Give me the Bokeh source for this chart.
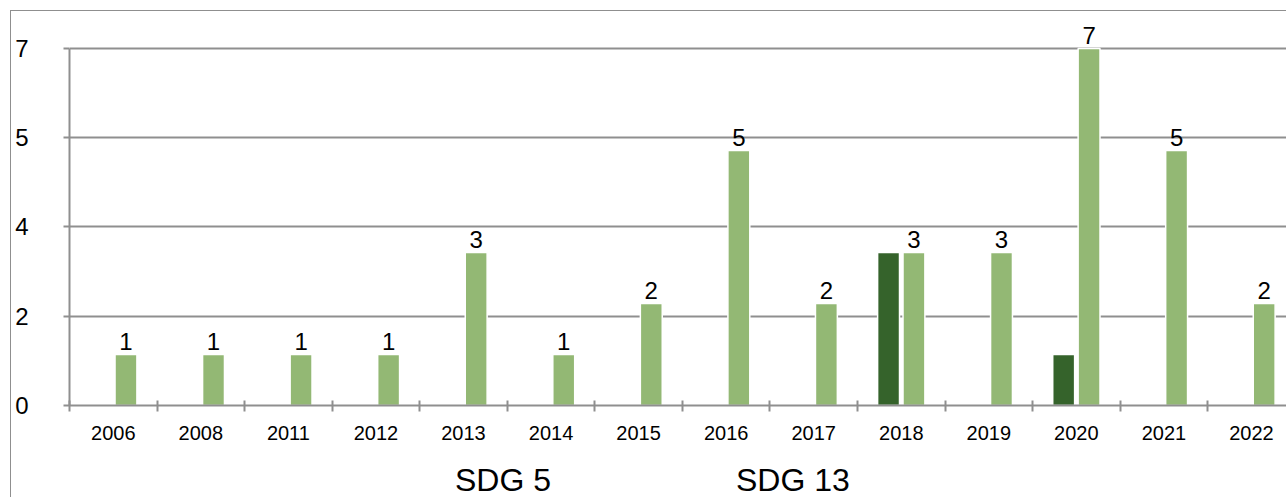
from bokeh.plotting import figure
from bokeh.layouts import column
from bokeh.models import (ColumnDataSource, Range1d, FixedTicker, Legend, LegendItem)
from bokeh.core.properties import value
from bokeh.embed import file_html
from bokeh.resources import INLINE

# ---- data ----
years = ["2006", "2008", "2011", "2012", "2013", "2014", "2015",
         "2016", "2017", "2018", "2019", "2020", "2021", "2022"]
sdg5 = [0, 0, 0, 0, 0, 0, 0, 0, 0, 3, 0, 1, 0, 0]
sdg13 = [1, 1, 1, 1, 3, 1, 2, 5, 2, 3, 3, 7, 5, 2]
y_tick_values = [0, 1.75, 3.5, 5.25, 7]
y_tick_labels = ["0", "2", "4", "5", "7"]
series_names = ["SDG 5", "SDG 13"]
colors = ["#35632B", "#93B874"]

FONT = "Liberation Sans"
GRAY = "#8f8f8f"

n = len(years)
centers = [i + 0.5 for i in range(n)]
off = 0.145
bw = 0.25

p = figure(width=1275, height=444, output_backend="svg", toolbar_location=None,
           x_range=Range1d(0, 13.90), y_range=Range1d(0, 7.725),
           min_border_left=58, min_border_top=0, min_border_right=0,
           min_border_bottom=50)
p.outline_line_color = None
p.background_fill_color = "white"

# bars
i5 = [i for i in range(n) if sdg5[i] > 0]
src5 = ColumnDataSource(dict(x=[centers[i] - off for i in i5], top=[sdg5[i] for i in i5]))
src13 = ColumnDataSource(dict(x=[c + off for c in centers], top=sdg13,
                              label=[str(v) for v in sdg13]))
r5 = p.vbar(x="x", top="top", width=bw, source=src5, fill_color=colors[0],
            line_color="white", line_width=1.5)
r13 = p.vbar(x="x", top="top", width=bw, source=src13, fill_color=colors[1],
             line_color="white", line_width=1.5)
p.text(x="x", y="top", text="label", source=src13, y_offset=-13,
       text_align="center", text_baseline="alphabetic",
       text_font=value(FONT), text_font_size="24px", text_color="black")

# x axis
xa = p.xaxis[0]
xa.ticker = FixedTicker(ticks=centers, minor_ticks=list(range(n + 1)))
xa.major_label_overrides = {c: y for c, y in zip(centers, years)}
xa.major_tick_line_color = None
xa.major_tick_out = 0
xa.major_tick_in = 0
xa.minor_tick_line_color = GRAY
xa.minor_tick_line_width = 2
xa.minor_tick_in = 5
xa.minor_tick_out = 6
xa.axis_line_color = GRAY
xa.axis_line_width = 2
xa.major_label_text_font = FONT
xa.major_label_text_font_size = "20px"
xa.major_label_text_color = "black"
xa.major_label_standoff = 14

# y axis
ya = p.yaxis[0]
ya.ticker = FixedTicker(ticks=y_tick_values)
ya.major_label_overrides = {v: l for v, l in zip(y_tick_values, y_tick_labels)}
ya.bounds = (0, 7)
ya.axis_line_color = GRAY
ya.axis_line_width = 2
ya.major_tick_line_color = GRAY
ya.major_tick_line_width = 2
ya.major_tick_in = 0
ya.major_tick_out = 6
ya.minor_tick_line_color = None
ya.major_label_text_font = FONT
ya.major_label_text_font_size = "24px"
ya.major_label_text_color = "black"
ya.major_label_standoff = 35

p.xgrid.grid_line_color = None
p.ygrid.ticker = FixedTicker(ticks=y_tick_values)
p.ygrid.grid_line_color = GRAY
p.ygrid.grid_line_width = 2

# legend strip (separate small figure so the legend is not clipped)
lf = figure(width=1275, height=42, output_backend="svg", toolbar_location=None,
            x_range=Range1d(0, 1), y_range=Range1d(0, 1),
            x_axis_type=None, y_axis_type=None,
            min_border_left=0, min_border_right=0, min_border_top=0, min_border_bottom=0)
lf.outline_line_color = None
lf.background_fill_color = "white"
l5 = lf.vbar(x=[], top=[], width=bw, fill_color=colors[0], line_color=None)
l13 = lf.vbar(x=[], top=[], width=bw, fill_color=colors[1], line_color=None)

legend = Legend(items=[LegendItem(label=series_names[0], renderers=[l5]),
                       LegendItem(label=series_names[1], renderers=[l13])],
                location=(323, -4), orientation="horizontal",
                glyph_width=42, glyph_height=42, label_width=120,
                label_standoff=21, spacing=98, padding=0, margin=0,
                label_text_font=FONT, label_text_font_size="32px",
                label_text_color="black",
                border_line_color=None, background_fill_alpha=0)
lf.add_layout(legend, "center")

layout = column(p, lf, spacing=0)
layout.styles = {"border-top": "1px solid #8f8f8f", "border-left": "1px solid #8f8f8f",
                 "margin-left": "10px", "margin-top": "10px"}

open("out.html", "w").write(file_html(layout, INLINE))
